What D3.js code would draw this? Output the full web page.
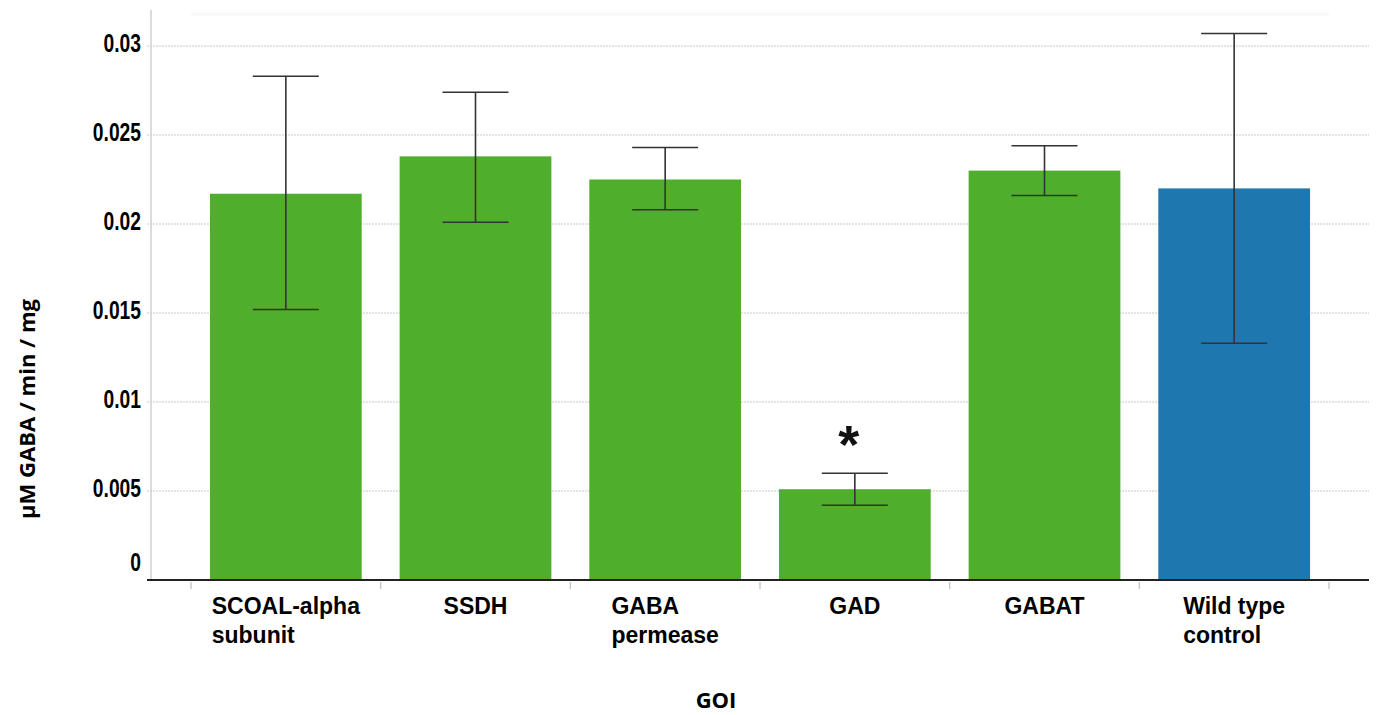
<!DOCTYPE html>
<html>
<head>
<meta charset="utf-8">
<script src="https://cdn.jsdelivr.net/npm/d3@7/dist/d3.min.js"></script>
<style>
  html, body { margin: 0; padding: 0; background: #fff; }
  svg { display: block; }
</style>
</head>
<body>
<svg id="chart" width="1379" height="715"></svg>
<script>
// GABA activity per gene of interest (µM GABA / min / mg), with error bar limits
const categories = [
  ["SCOAL-alpha", "subunit"],
  ["SSDH"],
  ["GABA", "permease"],
  ["GAD"],
  ["GABAT"],
  ["Wild type", "control"]
];
const means    = [0.0217, 0.0238, 0.0225, 0.0051, 0.0230, 0.0220];
const errLow   = [0.0152, 0.0201, 0.0208, 0.0042, 0.0216, 0.0133];
const errHigh  = [0.0283, 0.0274, 0.0243, 0.0060, 0.0244, 0.0307];
const isControl = [false, false, false, false, false, true];
const significant = [false, false, false, true, false, false];
const yTicks = [0, 0.005, 0.01, 0.015, 0.02, 0.025, 0.03];
const yTickLabels = ["0", "0.005", "0.01", "0.015", "0.02", "0.025", "0.03"];

const svg = d3.select("#chart");
const axisLeft = 151, axisRight = 1369, plotTop = 10, plotBottom = 580;

const keys = categories.map((c, i) => i);
const x = d3.scaleBand()
  .domain(keys)
  .range([191, 1329])
  .paddingInner(0.2)
  .paddingOuter(0.1);
const step = x.step();

const y = d3.scaleLinear().domain([0, 0.03]).range([plotBottom, 46]);

// faint frame line at the top of the plot area
svg.append("line")
  .attr("x1", 191).attr("x2", 1329)
  .attr("y1", 14).attr("y2", 14)
  .attr("stroke", "#f8f8f8").attr("stroke-width", 3);

// dotted horizontal gridlines
svg.append("g").selectAll("line")
  .data(yTicks.filter(t => t > 0))
  .join("line")
  .attr("x1", axisLeft - 4).attr("x2", axisRight)
  .attr("y1", d => y(d)).attr("y2", d => y(d))
  .attr("stroke", "#c8c8c8")
  .attr("stroke-width", 1)
  .attr("stroke-dasharray", "2,1");

// y axis line
svg.append("line")
  .attr("x1", axisLeft).attr("x2", axisLeft)
  .attr("y1", plotTop).attr("y2", plotBottom)
  .attr("stroke", "#cfcfcf").attr("stroke-width", 1.5);

// y tick labels (condensed bold digits)
const condense = 0.77;
svg.append("g")
  .attr("transform", `scale(${condense},1)`)
  .selectAll("text")
  .data(yTicks)
  .join("text")
  .attr("x", 141 / condense)
  .attr("y", (d, i) => d === 0 ? y(d) - 17 : y(d) - 2)
  .attr("text-anchor", "end")
  .attr("dominant-baseline", "central")
  .attr("font-family", "'Liberation Sans', Arial, sans-serif")
  .attr("font-weight", "bold")
  .attr("font-size", 25)
  .attr("fill", "#000")
  .text((d, i) => yTickLabels[i]);

// bars
svg.append("g").selectAll("rect")
  .data(keys)
  .join("rect")
  .attr("x", i => x(i))
  .attr("width", x.bandwidth())
  .attr("y", i => y(means[i]))
  .attr("height", i => y(0) - y(means[i]))
  .attr("fill", i => isControl[i] ? "#1f77b0" : "#4fae2b");

// error bars
const capHalf = 33;
const eb = svg.append("g").attr("stroke", "#333").attr("stroke-width", 1.6);
keys.forEach(i => {
  const cx = x(i) + x.bandwidth() / 2;
  eb.append("line").attr("x1", cx).attr("x2", cx)
    .attr("y1", y(errHigh[i])).attr("y2", y(errLow[i]));
  eb.append("line").attr("x1", cx - capHalf).attr("x2", cx + capHalf)
    .attr("y1", y(errHigh[i])).attr("y2", y(errHigh[i]));
  eb.append("line").attr("x1", cx - capHalf).attr("x2", cx + capHalf)
    .attr("y1", y(errLow[i])).attr("y2", y(errLow[i]));
});

// significance markers
svg.append("g").selectAll("text")
  .data(keys.filter(i => significant[i]))
  .join("text")
  .attr("x", i => x(i) + x.bandwidth() / 2 - 6)
  .attr("y", i => y(errHigh[i]) - 10)
  .attr("text-anchor", "middle")
  .attr("font-family", "'Liberation Sans', Arial, sans-serif")
  .attr("font-weight", "bold")
  .attr("font-size", 54)
  .attr("fill", "#111")
  .text("*");

// x axis line and category boundary ticks
svg.append("line")
  .attr("x1", axisLeft - 4).attr("x2", axisRight)
  .attr("y1", plotBottom).attr("y2", plotBottom)
  .attr("stroke", "#222").attr("stroke-width", 2);
const bounds = keys.map(i => x(i) - step * 0.1).concat([x(keys.length - 1) + x.bandwidth() + step * 0.1]);
svg.append("g").selectAll("line")
  .data(bounds)
  .join("line")
  .attr("x1", d => d).attr("x2", d => d)
  .attr("y1", plotBottom + 2).attr("y2", plotBottom + 9)
  .attr("stroke", "#c8c8c8").attr("stroke-width", 1.5);

// category labels: lines left-aligned, block centred under the bar
const labelG = svg.append("g")
  .attr("font-family", "'Liberation Sans', Arial, sans-serif")
  .attr("font-weight", "bold")
  .attr("font-size", 23)
  .attr("fill", "#000");
keys.forEach(i => {
  const cx = x(i) + x.bandwidth() / 2;
  const t = labelG.append("text").attr("y", 614);
  const spans = categories[i].map((line, k) =>
    t.append("tspan").attr("dy", k === 0 ? 0 : 29).text(line));
  let maxW = 0;
  spans.forEach(s => { maxW = Math.max(maxW, s.node().getComputedTextLength()); });
  spans.forEach(s => s.attr("x", cx - maxW / 2));
});

// axis titles
svg.append("text")
  .attr("transform", "translate(35,409) rotate(-90)")
  .attr("text-anchor", "middle")
  .attr("font-family", "'Open Sans', 'Noto Sans', sans-serif")
  .attr("font-weight", "bold")
  .attr("font-size", 22)
  .attr("fill", "#000")
  .text("µM GABA / min / mg");

svg.append("text")
  .attr("x", 716).attr("y", 708)
  .attr("text-anchor", "middle")
  .attr("font-family", "'Open Sans', 'Noto Sans', sans-serif")
  .attr("font-weight", "bold")
  .attr("font-size", 22)
  .attr("fill", "#000")
  .text("GOI");
</script>
</body>
</html>
